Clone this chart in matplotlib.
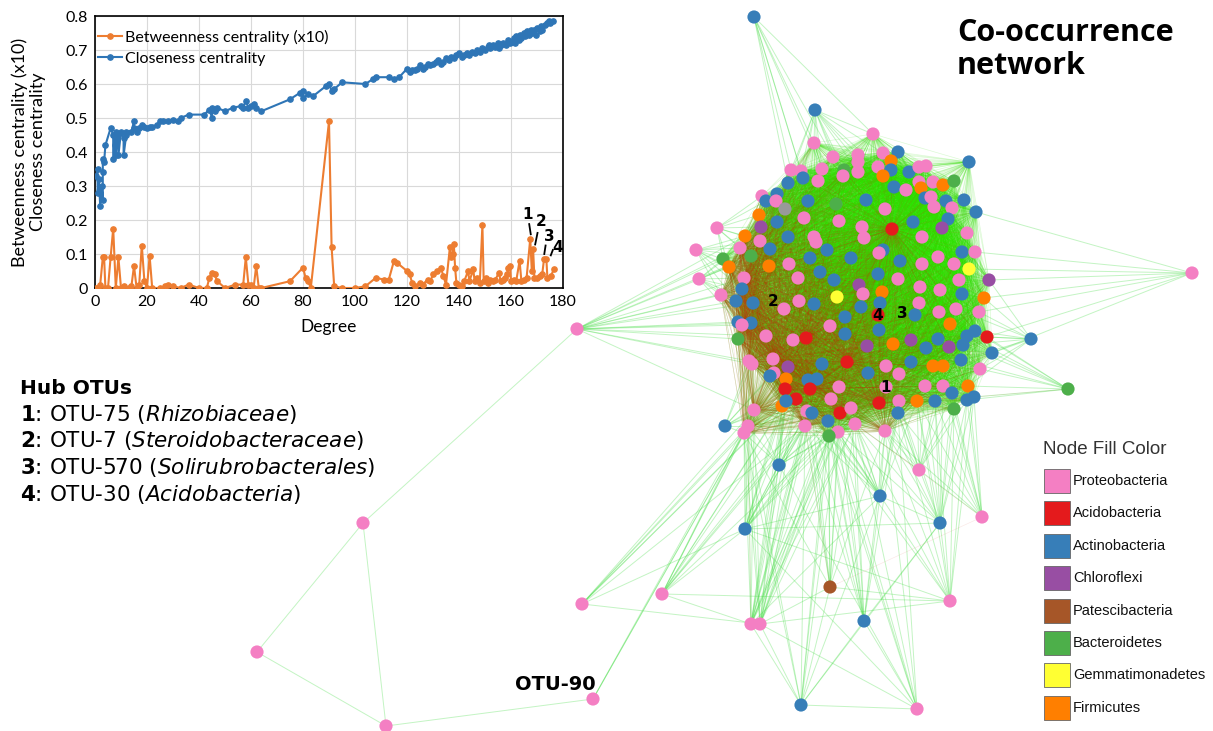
import numpy as np
import matplotlib.pyplot as plt
from matplotlib.collections import LineCollection
from matplotlib.patches import Rectangle

# ---------------- inset data: centrality vs degree ----------------
deg_clo = [0.5, 1, 1, 1.5, 2, 2.5, 3, 3, 3, 3.5, 4, 6, 7, 7, 7.5, 8, 8, 8.5, 9, 9,
           10, 11, 11, 12, 12, 14, 15, 15, 16, 17, 18, 19, 20, 21, 22, 24, 25, 26, 28, 30,
           32, 33, 36, 42, 44, 45, 45, 46, 47, 50, 53, 56, 57, 58, 59, 60, 61, 62, 64, 75,
           79, 80, 80, 82, 84, 89, 90, 91, 92, 95, 104, 107, 108, 113, 115, 117,
           120, 121, 122, 123, 124, 125, 126, 127, 128, 129, 130, 131, 132, 133, 134, 135,
           136, 137, 138, 139, 140, 141, 142, 143, 144, 145, 146, 147, 148, 149, 150, 151,
           151.5, 152, 153, 154, 155, 155.5, 156, 157, 158, 159, 159.5, 160, 161, 161.5,
           162, 163, 163.5, 164, 165, 165.5, 166, 167, 167.5, 168, 169, 169.5, 170, 171,
           171.5, 172, 173, 174, 174.5, 175, 176]
closeness = [0.33, 0.35, 0.28, 0.32, 0.24, 0.30, 0.26, 0.34, 0.38, 0.37, 0.42, 0.47, 0.45, 0.38,
             0.42, 0.46, 0.39, 0.44, 0.45, 0.39, 0.46, 0.44, 0.39, 0.45, 0.46, 0.46, 0.49, 0.47,
             0.46, 0.47, 0.48, 0.475, 0.47, 0.475, 0.475, 0.48, 0.49, 0.49, 0.49, 0.495, 0.49,
             0.50, 0.51, 0.51, 0.525, 0.50, 0.53, 0.52, 0.53, 0.52, 0.53, 0.535, 0.53, 0.55,
             0.53, 0.535, 0.54, 0.53, 0.52, 0.555, 0.575, 0.58, 0.56, 0.57, 0.565, 0.595, 0.60,
             0.58, 0.585, 0.605, 0.60, 0.615, 0.62, 0.62, 0.615, 0.62,
             0.645, 0.635, 0.64, 0.64, 0.645, 0.655, 0.645, 0.65, 0.66, 0.655, 0.66, 0.665,
             0.67, 0.66, 0.665, 0.675, 0.67, 0.68, 0.675, 0.685, 0.69, 0.68, 0.685, 0.69,
             0.685, 0.695, 0.69, 0.70, 0.695, 0.705, 0.70, 0.71, 0.715, 0.705, 0.715, 0.71,
             0.72, 0.705, 0.715, 0.72, 0.715, 0.73, 0.72, 0.725, 0.735, 0.72, 0.74, 0.73,
             0.745, 0.735, 0.75, 0.74, 0.755, 0.745, 0.76, 0.75, 0.76, 0.745, 0.765, 0.755,
             0.77, 0.76, 0.775, 0.78, 0.785, 0.78, 0.785]

deg_btw = [0.5, 1, 2, 3, 3.5, 4, 5, 6, 7, 8, 9, 10, 11, 13, 14, 15, 16, 17, 18, 19, 20, 21,
           22, 25, 27, 28, 30, 33, 36, 40, 43, 44, 45, 46, 47, 50, 54, 57, 58, 59, 60, 61, 62,
           63, 64, 75, 80, 81, 82, 83, 90, 91, 92, 95, 100, 104, 108, 111, 113, 115, 116, 120,
           121, 122, 123, 125, 126, 128, 129, 130, 131.5, 133, 134, 135, 136.5, 137, 137.5,
           138, 138.5, 139, 140, 141, 142, 143.5, 144, 145.5, 146, 147, 148, 149, 149.5,
           150.5, 151, 152, 153, 154, 155.4, 156, 157, 157.5, 158.5, 159, 159.7, 160, 161,
           162, 163.3, 164, 165, 166, 167.4, 168, 168.5, 169, 170, 171, 172, 172.7, 173.6,
           174, 175.3, 176.5]
betweenness = [0.0, 0.0, 0.01, 0.09, 0.09, 0.0, 0.0, 0.09, 0.175, 0.0, 0.09, 0.0, 0.005, 0.0,
               0.005, 0.065, 0.0, 0.01, 0.125, 0.02, 0.0, 0.095, 0.0, 0.0, 0.005, 0.01, 0.005,
               0.0, 0.01, 0.0, 0.0, 0.03, 0.045, 0.04, 0.02, 0.0, 0.01, 0.01, 0.09, 0.01, 0.01,
               0.0, 0.065, 0.0, 0.0, 0.02, 0.06, 0.03, 0.02, 0.0, 0.49, 0.12, 0.005, 0.0, 0.0,
               0.005, 0.03, 0.025, 0.025, 0.08, 0.075, 0.05, 0.04, 0.015, 0.005, 0.015, 0.01,
               0.025, 0.02, 0.04, 0.05, 0.06, 0.035, 0.01, 0.12, 0.09, 0.10, 0.13, 0.06, 0.015,
               0.01, 0.005, 0.02, 0.05, 0.02, 0.055, 0.02, 0.03, 0.015, 0.185, 0.02, 0.03,
               0.015, 0.025, 0.02, 0.025, 0.045, 0.02, 0.025, 0.03, 0.04, 0.06, 0.065, 0.02,
               0.025, 0.02, 0.08, 0.02, 0.025, 0.03, 0.145, 0.05, 0.115, 0.03, 0.03, 0.035,
               0.04, 0.085, 0.085, 0.03, 0.035, 0.055]

# hub labels in the inset: label position and short pointer line (degree, value)
hub_ids = ['1', '2', '3', '4']
hub_label_pos = [(166.2, 0.215), (171.4, 0.195), (174.6, 0.152), (178.0, 0.118)]
hub_pointer = [((167.0, 0.188), (167.6, 0.158)), ((170.2, 0.162), (169.3, 0.128)),
               ((173.3, 0.125), (172.8, 0.100)), ((176.1, 0.112), (175.3, 0.096))]

# ---------------- hub OTU list ----------------
hub_otu = ['OTU-75', 'OTU-7', 'OTU-570', 'OTU-30']
hub_taxon = ['Rhizobiaceae', 'Steroidobacteraceae', 'Solirubrobacterales', 'Acidobacteria']

# ---------------- network (layout coordinates) ----------------
phyla = ['Proteobacteria', 'Acidobacteria', 'Actinobacteria', 'Chloroflexi',
         'Patescibacteria', 'Bacteroidetes', 'Gemmatimonadetes', 'Firmicutes']
phylum_code = ['P', 'R', 'B', 'V', 'N', 'G', 'Y', 'O']
phylum_color = ['#F47FC3', '#E41A1C', '#377EB8', '#984EA3',
                '#A65628', '#4DAF4A', '#FFFF33', '#FF7F00']
node_color = dict(zip(phylum_code, phylum_color))
node_color['X'] = '#999999'

core_nodes = [
    (814, 143, 'P'), (873, 134, 'P'), (833, 157, 'P'), (858, 155, 'P'), (858, 162, 'P'),
    (858, 172, 'P'), (844, 170, 'G'), (843, 176, 'P'), (883, 153, 'P'), (898, 152, 'B'),
    (878, 167, 'P'), (891, 161, 'O'), (891, 170, 'B'), (883, 176, 'O'), (909, 172, 'B'),
    (919, 167, 'P'), (926, 166, 'P'), (919, 182, 'P'), (921, 188, 'O'), (933, 182, 'P'),
    (943, 185, 'O'), (954, 181, 'G'), (969, 162, 'B'),
    (791, 170, 'P'), (801, 171, 'P'), (822, 169, 'P'), (803, 178, 'B'), (818, 181, 'P'),
    (788, 183, 'B'), (777, 194, 'B'), (762, 196, 'P'), (766, 201, 'B'), (776, 201, 'P'),
    (808, 201, 'B'), (836, 204, 'G'), (866, 200, 'B'), (894, 187, 'B'), (906, 190, 'P'),
    (925, 198, 'B'), (931, 197, 'P'), (946, 201, 'B'), (964, 200, 'B'), (934, 207, 'P'),
    (952, 208, 'P'), (976, 212, 'B'),
    (785, 209, 'X'), (759, 215, 'O'), (885, 209, 'P'), (804, 218, 'P'), (839, 221, 'P'),
    (777, 222, 'B'), (913, 222, 'B'), (948, 219, 'B'), (761, 227, 'V'), (862, 227, 'P'),
    (892, 229, 'R'), (942, 228, 'V'),
    (745, 236, 'O'), (760, 241, 'P'), (788, 237, 'B'), (814, 237, 'P'), (816, 242, 'P'),
    (864, 238, 'P'), (922, 237, 'P'), (967, 233, 'P'),
    (740, 248, 'P'), (770, 249, 'B'), (827, 250, 'B'), (883, 250, 'B'), (879, 253, 'P'),
    (938, 257, 'P'), (962, 252, 'B'), (975, 252, 'P'),
    (723, 259, 'G'), (751, 256, 'G'), (729, 267, 'O'), (769, 266, 'O'), (789, 264, 'P'),
    (810, 258, 'B'), (851, 258, 'B'), (900, 261, 'B'), (922, 264, 'P'), (954, 264, 'P'),
    (744, 278, 'P'), (798, 278, 'P'), (820, 272, 'B'), (834, 280, 'B'), (878, 274, 'B'),
    (898, 279, 'P'), (920, 287, 'P'), (959, 280, 'P'), (969, 269, 'Y'), (989, 280, 'V'),
    (721, 295, 'P'), (742, 289, 'B'), (859, 285, 'V'), (863, 294, 'P'), (882, 292, 'O'),
    (940, 290, 'P'), (962, 294, 'B'), (984, 298, 'O'),
    (736, 301, 'B'), (753, 303, 'B'), (784, 309, 'P'), (799, 301, 'P'), (814, 304, 'B'),
    (837, 297, 'Y'), (861, 307, 'B'), (880, 303, 'B'), (919, 303, 'P'), (939, 312, 'P'),
    (956, 309, 'P'), (979, 312, 'P'),
    (845, 317, 'B'), (915, 315, 'B'), (950, 324, 'O'), (878, 315, 'R'),
    (738, 322, 'B'), (751, 323, 'B'), (742, 325, 'P'), (830, 326, 'P'), (879, 330, 'B'),
    (845, 334, 'B'), (766, 336, 'P'), (793, 340, 'P'), (806, 338, 'R'), (738, 339, 'G'),
    (893, 344, 'O'), (911, 340, 'V'), (938, 339, 'B'), (867, 346, 'V'), (926, 348, 'B'),
    (949, 347, 'V'), (963, 345, 'B'), (967, 336, 'B'), (975, 331, 'B'), (987, 337, 'R'),
    (992, 353, 'B'),
    (749, 361, 'P'), (752, 364, 'P'), (773, 359, 'P'), (822, 364, 'B'), (847, 362, 'R'),
    (886, 366, 'P'), (911, 362, 'B'), (933, 366, 'O'), (943, 366, 'O'), (961, 360, 'B'),
    (980, 369, 'P'),
    (788, 367, 'V'), (774, 373, 'P'), (770, 376, 'B'), (786, 379, 'O'), (808, 380, 'B'),
    (817, 379, 'B'), (868, 373, 'B'), (899, 374, 'P'),
    (785, 389, 'R'), (810, 389, 'R'), (839, 387, 'P'), (886, 387, 'P'), (925, 386, 'P'),
    (943, 386, 'P'), (968, 386, 'O'),
    (796, 399, 'R'), (831, 399, 'P'), (879, 403, 'R'), (899, 401, 'P'), (917, 401, 'O'),
    (952, 393, 'B'), (935, 401, 'B'), (967, 400, 'B'), (974, 397, 'B'),
    (782, 406, 'O'), (786, 401, 'B'), (754, 410, 'P'), (807, 411, 'P'), (812, 413, 'B'),
    (840, 413, 'R'), (851, 408, 'P'), (898, 413, 'B'), (954, 409, 'G'),
    (805, 426, 'P'), (828, 421, 'B'), (855, 424, 'P'), (885, 431, 'P'), (748, 426, 'P'),
    (744, 433, 'P'), (838, 432, 'P'), (829, 436, 'G'),
]

# core nodes carrying negative (red) associations
neg_nodes = [(721, 295), (736, 301), (742, 325), (738, 339), (749, 361), (754, 410),
             (744, 433), (785, 389), (810, 389), (840, 413), (885, 431), (805, 426),
             (729, 267), (740, 248), (744, 278), (806, 338), (847, 362), (892, 229),
             (773, 359), (879, 403)]

# peripheral nodes: x, y, phylum, number of links into the core
peri_nodes = [
    (754, 17, 'B', 8), (815, 110, 'B', 16), (577, 329, 'P', 18), (1192, 273, 'P', 8),
    (1031, 339, 'B', 12), (1068, 389, 'G', 10), (696, 250, 'P', 10), (717, 228, 'P', 10),
    (699, 279, 'P', 10), (725, 426, 'B', 10), (779, 465, 'B', 14), (919, 470, 'P', 12),
    (880, 496, 'B', 14), (982, 517, 'P', 10), (940, 523, 'B', 14), (745, 529, 'B', 14),
    (830, 587, 'N', 10), (662, 594, 'P', 10), (582, 604, 'P', 6), (950, 601, 'P', 10),
    (751, 624, 'P', 14), (760, 624, 'P', 14), (864, 621, 'B', 10), (801, 705, 'B', 6),
    (917, 709, 'P', 6), (593, 699, 'P', 3), (363, 523, 'P', 0), (257, 652, 'P', 0),
    (386, 726, 'P', 0),
]
# links between peripheral nodes (indices into peri_nodes)
peri_links = [(2, 26), (26, 27), (26, 28), (27, 28), (28, 25), (18, 21), (18, 15),
              (17, 20), (17, 15), (17, 19), (23, 24), (23, 20), (23, 21), (23, 22),
              (23, 14), (23, 12), (23, 16), (24, 21), (24, 10), (24, 15), (24, 22),
              (22, 14), (22, 12), (19, 21), (19, 16), (19, 15), (15, 14), (15, 12),
              (16, 21), (10, 15), (10, 20), (12, 14), (11, 13), (14, 19), (20, 12)]
# negative links reaching outside the core (node pairs)
neg_links = [((830, 587), (982, 517)), ((840, 413), (982, 517)), ((805, 426), (830, 587)),
             ((748, 426), (751, 624)), ((974, 397), (1068, 389)), ((855, 424), (919, 470))]

hub_net_pos = [(886, 387), (773, 301), (902, 313), (878, 315)]

# ---------------- figure ----------------
fig = plt.figure(figsize=(12.13, 7.31), dpi=100)
ax = fig.add_axes([0, 0, 1, 1])
ax.set_xlim(0, 1213)
ax.set_ylim(731, 0)
ax.axis('off')

cx = np.array([n[0] for n in core_nodes], float)
cy = np.array([n[1] for n in core_nodes], float)
cpts = np.column_stack([cx, cy])

# dense core: link nodes lying within a neighbourhood
green_segs = []
for i in range(len(cpts)):
    d = np.hypot(*(cpts[i + 1:] - cpts[i]).T)
    for j in np.nonzero(d < 175)[0]:
        green_segs.append([cpts[i], cpts[i + 1 + j]])
ax.add_collection(LineCollection(green_segs, colors='#2ee000', linewidths=0.5,
                                 alpha=0.17, zorder=1))

red_segs = []
for p in neg_nodes:
    p = np.array(p, float)
    d = np.hypot(*(cpts - p).T)
    for j in np.nonzero((d < 190) & (d > 1))[0]:
        red_segs.append([p, cpts[j]])
for a, b in neg_links:
    red_segs.append([a, b])
ax.add_collection(LineCollection(red_segs, colors='#d42a10', linewidths=0.45,
                                 alpha=0.11, zorder=1.2))

peri_segs = []
for x, y, c, k in peri_nodes:
    if k == 0:
        continue
    d = np.hypot(cx - x, cy - y)
    for j in np.argsort(d)[:k]:
        peri_segs.append([(x, y), cpts[j]])
for i, j in peri_links:
    peri_segs.append([peri_nodes[i][:2], peri_nodes[j][:2]])
ax.add_collection(LineCollection(peri_segs, colors='#4ade4a', linewidths=0.7,
                                 alpha=0.33, zorder=1.1))

ax.scatter(cx, cy, s=90, c=[node_color[n[2]] for n in core_nodes],
           linewidths=0, zorder=3)
ax.scatter([n[0] for n in peri_nodes], [n[1] for n in peri_nodes], s=90,
           c=[node_color[n[2]] for n in peri_nodes], linewidths=0, zorder=3)

for lab, (x, y) in zip(hub_ids, hub_net_pos):
    ax.text(x, y, lab, fontsize=11, fontweight='bold', ha='center', va='center',
            color='black', zorder=4)

ax.text(555, 684, 'OTU-90', fontsize=14, fontweight='bold', ha='center', va='center')
ax.text(957, 33, 'Co-occurrence', fontsize=22, fontweight='bold', va='center',
        family=['Open Sans', 'DejaVu Sans'])
ax.text(957, 66, 'network', fontsize=22, fontweight='bold', va='center',
        family=['Open Sans', 'DejaVu Sans'])

# hub OTU list
ax.text(20, 388, 'Hub OTUs', fontsize=14.5, fontweight='bold', va='center')
for k, (lab, otu, tax) in enumerate(zip(hub_ids, hub_otu, hub_taxon)):
    ax.text(20, 414 + 26.7 * k, r'$\mathbf{%s}$: %s ($\mathit{%s}$)' % (lab, otu, tax),
            fontsize=15.5, va='center')

# node colour legend
ax.text(1043, 450, 'Node Fill Color', fontsize=13.5, color='#333333', va='center',
        family='Liberation Sans')
for k, (name, col) in enumerate(zip(phyla, phylum_color)):
    yc = 481 + 32.4 * k
    ax.add_patch(Rectangle((1044, yc - 12), 26, 24, facecolor=col, edgecolor='#666666',
                           linewidth=0.6, zorder=3))
    ax.text(1073, yc, name, fontsize=10.5, color='#111111', va='center',
            family='Liberation Sans')

# ---------------- inset: centrality vs degree ----------------
ins = fig.add_axes([95 / 1213, 1 - 288 / 731, (563 - 95) / 1213, (288 - 16) / 731])
ins.set_facecolor('white')
ins.plot(deg_btw, betweenness, '-o', color='#ED7D31', lw=1.5, ms=3.8,
         label='Betweenness centrality (x10)', zorder=3)
ins.plot(deg_clo, closeness, '-o', color='#2E75B6', lw=1.5, ms=3.8,
         label='Closeness centrality', zorder=3)
for lab, (x, y), (p0, p1) in zip(hub_ids, hub_label_pos, hub_pointer):
    ins.text(x, y, lab, fontsize=11, fontweight='bold', ha='center', va='center',
             zorder=4)
    ins.plot([p0[0], p1[0]], [p0[1], p1[1]], color='black', lw=1.3, zorder=4)

ins.set_xlim(0, 180)
ins.set_ylim(0, 0.8)
ins.set_xticks(range(0, 181, 20))
ins.set_yticks(np.arange(0, 0.81, 0.1))
ins.set_yticklabels(['0'] + ['%.1f' % v for v in np.arange(0.1, 0.81, 0.1)])
ins.grid(True, color='#d9d9d9', lw=0.8)
ins.set_axisbelow(True)
ins.tick_params(length=0, labelsize=11.5, pad=5)
for lbl in ins.get_xticklabels() + ins.get_yticklabels():
    lbl.set_family('Lato')
for s in ins.spines.values():
    s.set_color('black')
    s.set_linewidth(1.2)
ins.set_xlabel('Degree', fontsize=12.5, family='Lato', labelpad=7)
ins.set_ylabel('Betweenness centrality (x10)\nCloseness centrality', fontsize=13,
               family='Lato', labelpad=14, linespacing=1.15)
ins.legend(loc='upper left', bbox_to_anchor=(-0.022, 1.0), frameon=False,
           handlelength=1.5, borderaxespad=0.45, handletextpad=0.2, labelspacing=0.45,
           prop={'family': 'Lato', 'size': 11.5})

fig.savefig('out.png', dpi=100, facecolor='white')
